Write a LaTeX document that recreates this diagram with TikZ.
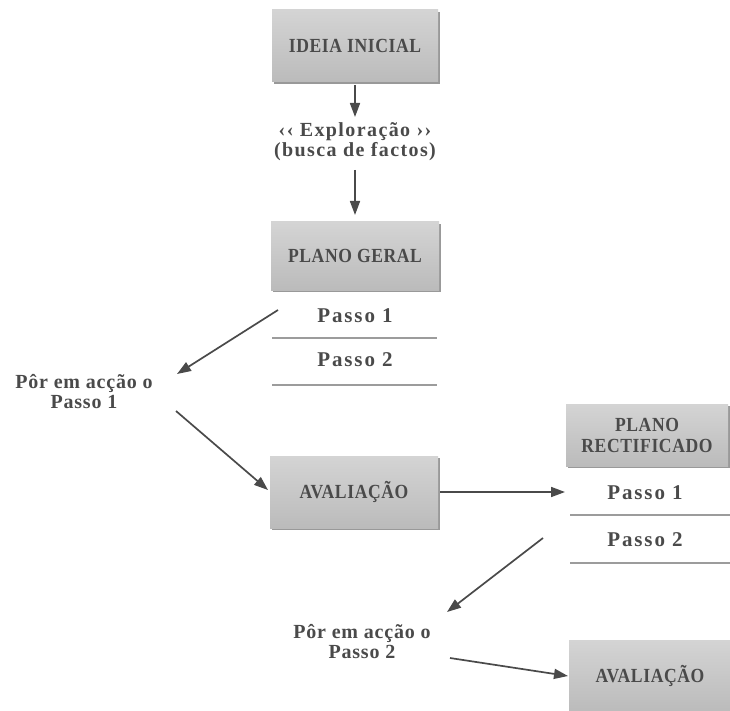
\documentclass[tikz,border=0pt]{standalone}
\usepackage{fontspec}
\setmainfont{Liberation Serif}[LetterSpace=4]
\newfontfamily\titlefont{Liberation Serif}[FakeStretch=0.88, LetterSpace=3]
\newfontfamily\stepfont{Liberation Serif}[LetterSpace=9]
\newfontfamily\explofont{Liberation Serif}[LetterSpace=7]
\usetikzlibrary{arrows.meta,shadows}
\definecolor{ink}{HTML}{4A4A4A}
\definecolor{boxtop}{HTML}{D4D4D4}
\definecolor{boxbot}{HTML}{BBBBBB}
\definecolor{rulegray}{HTML}{9C9C9C}
\begin{document}
\begin{tikzpicture}[x=1pt,y=-1pt,
  boxnode/.style={rectangle, inner sep=0pt, top color=boxtop, bottom color=boxbot,
    drop shadow={shadow xshift=2pt, shadow yshift=-2pt, opacity=0.4, fill=black},
    text=ink, align=center, font=\titlefont\bfseries\fontsize{20}{21}\selectfont},
  label/.style={text=ink, align=center, inner sep=0pt, font=\bfseries\fontsize{20}{20}\selectfont},
  steptext/.style={text=ink, inner sep=0pt, font=\stepfont\bfseries\fontsize{21}{21}\selectfont},
  steprule/.style={draw=rulegray, line width=1.5pt},
  arr/.style={draw=ink, line width=1.7pt, -{Triangle[length=14pt,width=10pt]}}]
\useasboundingbox[fill=white] (0,0) rectangle (730,711);

% main column
\node[boxnode, minimum width=166, minimum height=72] (ideia) at (355,46) {IDEIA INICIAL};
\node[label, font=\explofont\bfseries\fontsize{20}{20}\selectfont] (explo) at (355,142) {‹‹ Exploração ››\\(busca de factos)};
\node[boxnode, minimum width=168, minimum height=68] (plano) at (355,256) {PLANO GERAL};
\node[steptext] (p1) at (355,316) {Passo 1};
\draw[steprule] (272,338) -- (437,338);
\node[steptext] (p2) at (355,360) {Passo 2};
\draw[steprule] (272,385) -- (437,385);

\node[label] (acc1) at (84,392) {Pôr em acção o\\Passo 1};
\node[boxnode, minimum width=168, minimum height=72] (aval1) at (354,492) {AVALIAÇÃO};

% revised plan
\node[boxnode, minimum width=162, minimum height=62] (rect) at (647,435) {PLANO\\RECTIFICADO};
\node[steptext] (r1) at (645,493) {Passo 1};
\draw[steprule] (570,515) -- (730,515);
\node[steptext] (r2) at (645,540) {Passo 2};
\draw[steprule] (570,563) -- (730,563);

\node[label] (acc2) at (362,642) {Pôr em acção o\\Passo 2};
\node[boxnode, minimum width=162, minimum height=72] (aval2) at (650,676) {AVALIAÇÃO};

% connectors
\draw[arr] ([shift={(0,39)}]ideia.center) -- ([shift={(0,-25)}]explo.center);
\draw[arr] ([shift={(0,28)}]explo.center) -- ([shift={(0,-41)}]plano.center);
\draw[arr] ([shift={(-77,-6)}]p1.center) -- ([shift={(93,-18)}]acc1.center);
\draw[arr] ([shift={(92,19)}]acc1.center) -- ([shift={(-86,-2)}]aval1.center);
\draw[arr] ([shift={(86,0)}]aval1.center) -- ([shift={(-80,-1)}]r1.center);
\draw[arr] ([shift={(-102,-2)}]r2.center) -- ([shift={(85,-30)}]acc2.center);
\draw[arr] ([shift={(88,16)}]acc2.center) -- ([shift={(-82,0)}]aval2.center);
\end{tikzpicture}
\end{document}
